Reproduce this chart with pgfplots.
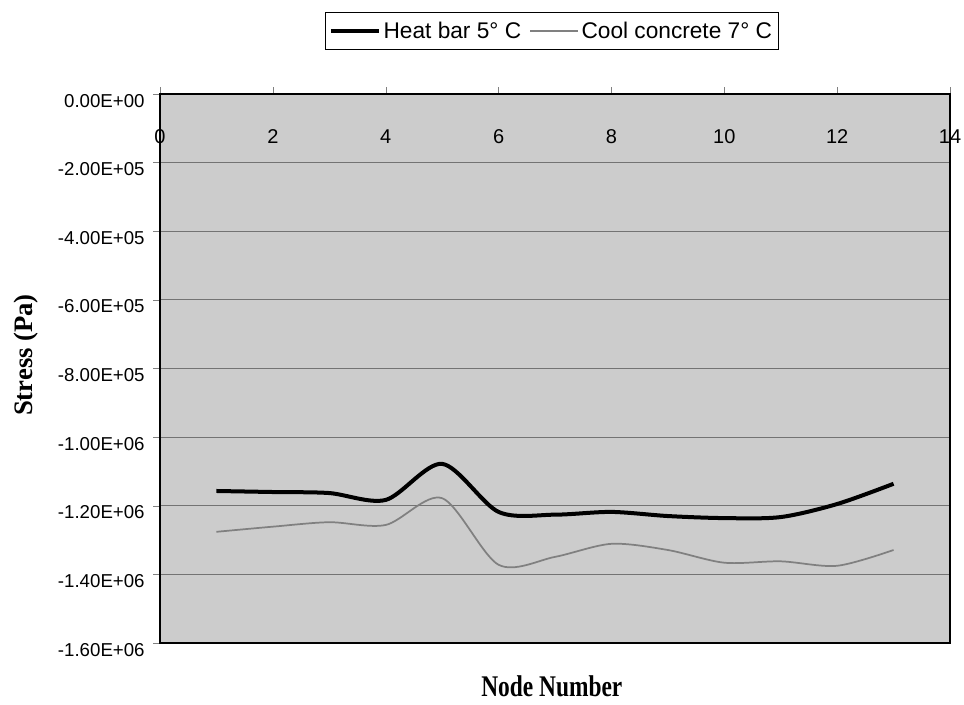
\documentclass[border=0pt]{standalone}
\usepackage{fontspec}
\usepackage{graphicx}
\usepackage{pgfplots}
\pgfplotsset{compat=1.18}
\setmainfont{Liberation Sans}
\newfontfamily\timesfont{Liberation Serif}
\definecolor{bggray}{gray}{0.80}
\definecolor{coolgray}{gray}{0.50}
\definecolor{gridgray}{gray}{0.45}
\begin{document}
\begin{tikzpicture}
\begin{axis}[
  name=ax,
  scale only axis,
  width=592.5pt, height=411.75pt,
  xmin=0, xmax=14, ymin=-1.6e6, ymax=0,
  axis background/.style={fill=bggray},
  axis line style={black, line width=0.8pt},
  xtick={0,2,4,6,8,10,12,14},
  xtick pos=upper, xticklabel pos=upper,
  xtick align=outside,
  major tick length=5pt,
  /pgf/number format/assume math mode=true,
  xticklabel style={font=\fontsize{15}{15}\selectfont, anchor=north, yshift=-28pt},
  ytick={-1.6e6,-1.4e6,-1.2e6,-1e6,-8e5,-6e5,-4e5,-2e5,0},
  yticklabels={-1.60E+06,-1.40E+06,-1.20E+06,-1.00E+06,-8.00E+05,-6.00E+05,-4.00E+05,-2.00E+05,0.00E+00},
  ytick pos=left, ytick align=outside,
  yticklabel style={font=\fontsize{14}{14}\selectfont, anchor=east, xshift=-3pt, yshift=-5pt},
  scaled y ticks=false,
  ymajorgrids,
  major grid style={gridgray, line width=0.6pt},
  xlabel={\timesfont\bfseries\fontsize{22.5}{22.5}\selectfont\scalebox{0.78}[1]{Node Number}},
  xlabel style={at={(axis description cs:0.496,-0.0783)}, anchor=center},
  ylabel={\timesfont\bfseries\fontsize{20}{20}\selectfont Stress (Pa)},
  ylabel style={at={(axis description cs:-0.1696,0.5246)}, anchor=center},
  legend columns=2,
  legend style={at={(axis description cs:0.496,1.115)}, anchor=center,
    draw=black, line width=0.6pt, fill=white,
    font=\fontsize{17}{17}\selectfont,
    inner xsep=3pt, inner ysep=5pt,
    /tikz/every even column/.append style={column sep=4pt}},
  legend image code/.code={\draw[#1] (0pt,0pt) -- (36pt,0pt);},
]
\addplot[black, line width=3pt, smooth, tension=0.5] coordinates {
 (1,-1.157e6) (2,-1.160e6) (3,-1.163e6) (4,-1.183e6) (5,-1.078e6)
 (6,-1.218e6) (7,-1.226e6) (8,-1.218e6) (9,-1.230e6) (10,-1.236e6)
 (11,-1.233e6) (12,-1.195e6) (13,-1.136e6)
};
\addlegendentry{Heat bar 5°\ C}
\addplot[coolgray, line width=1.3pt, smooth, tension=0.5] coordinates {
 (1,-1.276e6) (2,-1.261e6) (3,-1.248e6) (4,-1.256e6) (5,-1.178e6)
 (6,-1.372e6) (7,-1.349e6) (8,-1.311e6) (9,-1.329e6) (10,-1.366e6)
 (11,-1.362e6) (12,-1.375e6) (13,-1.329e6)
};
\addlegendentry{Cool concrete 7°\ C}
\end{axis}
\pgfresetboundingbox
\path ([shift={(-120pt,-46.5pt)}]ax.south west) rectangle ([shift={(10.5pt,70.5pt)}]ax.north east);
\end{tikzpicture}
\end{document}
